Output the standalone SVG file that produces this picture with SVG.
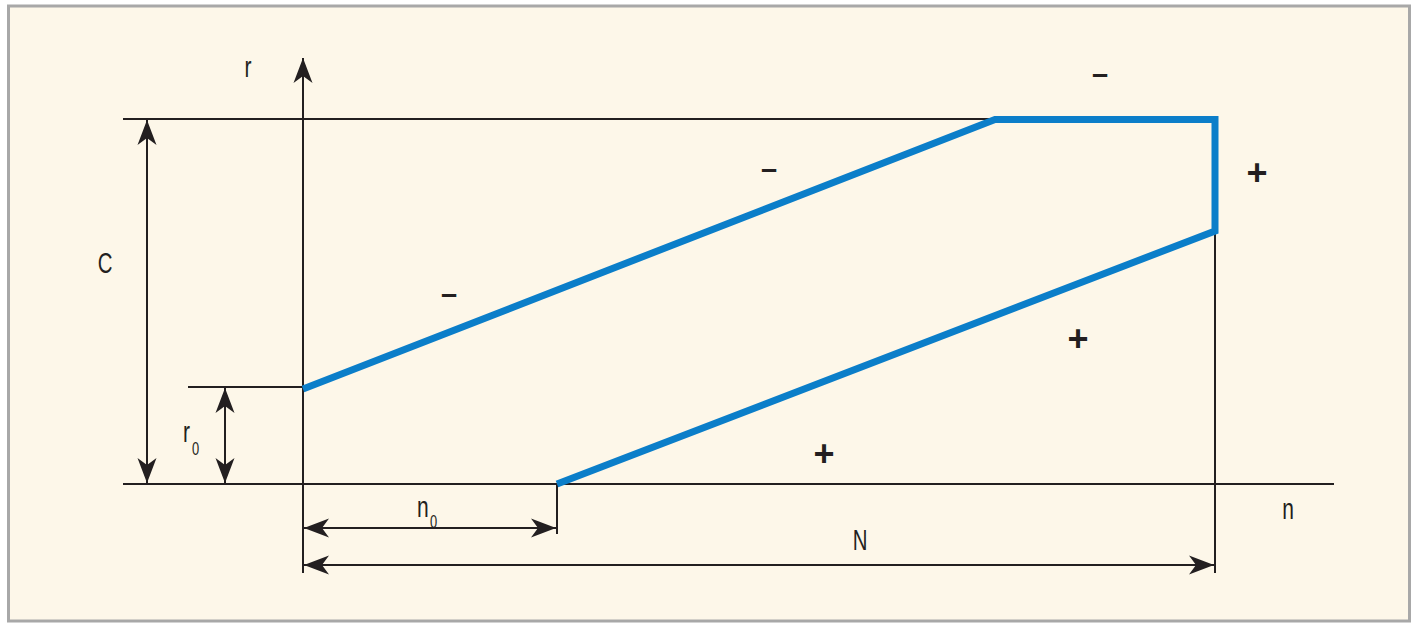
<svg xmlns="http://www.w3.org/2000/svg" width="1417" height="628" viewBox="0 0 1417 628">
  <style>
    .ln { stroke: #231f20; stroke-width: 2; fill: none; }
    .dim { stroke: #231f20; stroke-width: 2; fill: none; marker-start: url(#ah); marker-end: url(#ah); }
    .blue { stroke: #0b7ec9; stroke-width: 7; fill: none; stroke-linejoin: miter; }
    .lbl { font-family: "Liberation Sans", Arial, sans-serif; font-size: 30px; fill: #231f20; }
    .sub { font-family: "Liberation Sans", Arial, sans-serif; font-size: 19px; fill: #231f20; }
    .sgn { font-family: "Liberation Sans", Arial, sans-serif; font-weight: bold; fill: #231f20; text-anchor: middle; }
  </style>
  <defs>
    <marker id="ah" viewBox="-26 -10 27 20" refX="0" refY="0" markerWidth="27" markerHeight="20" markerUnits="userSpaceOnUse" orient="auto-start-reverse">
      <path d="M0,0 L-25,-9.5 L-18,0 L-25,9.5 Z" fill="#231f20"/>
    </marker>
  </defs>
  <rect id="frame" x="8.5" y="6" width="1401" height="615" fill="#fdf7e9" stroke="#a8a8a8" stroke-width="3"/>

  <g id="connectors">
    <line id="top-ref" class="ln" x1="123" y1="119" x2="1000" y2="119"/>
    <line id="n-axis" class="ln" x1="123" y1="484" x2="1334" y2="484"/>
    <line id="r0-ref" class="ln" x1="188" y1="387" x2="303" y2="387"/>
    <line id="r-axis" class="ln" x1="303" y1="573" x2="303" y2="58" marker-end="url(#ah)"/>
    <line id="N-ref" class="ln" x1="1215" y1="230" x2="1215" y2="573"/>
    <line id="n0-ref" class="ln" x1="557" y1="484" x2="557" y2="534"/>
    <line id="C-dim" class="dim" x1="147" y1="120" x2="147" y2="483"/>
    <line id="r0-dim" class="dim" x1="225" y1="388" x2="225" y2="483"/>
    <line id="n0-dim" class="dim" x1="304" y1="528" x2="556" y2="528"/>
    <line id="N-dim" class="dim" x1="304" y1="565" x2="1214" y2="565"/>
  </g>

  <g id="curve">
    <polyline class="blue" points="303,389 995,119.5 1215,119.5 1215,231 557,484"/>
  </g>

  <g id="labels">
    <text id="lbl-r" class="lbl" text-anchor="middle" transform="translate(248,77) scale(0.7,1)">r</text>
    <text id="lbl-n" class="lbl" text-anchor="middle" transform="translate(1288,519) scale(0.7,1)">n</text>
    <text id="lbl-C" class="lbl" text-anchor="middle" transform="translate(105,273) scale(0.68,1)">C</text>
    <text id="lbl-N" class="lbl" text-anchor="middle" transform="translate(860,550) scale(0.68,1)">N</text>
    <g id="lbl-r0">
      <text class="lbl" transform="translate(183,442) scale(0.7,1)">r</text>
      <text class="sub" transform="translate(192,455) scale(0.68,1)">0</text>
    </g>
    <g id="lbl-n0">
      <text class="lbl" transform="translate(417,517) scale(0.7,1)">n</text>
      <text class="sub" transform="translate(430,528) scale(0.68,1)">0</text>
    </g>
  </g>

  <g id="signs">
    <text class="sgn" font-size="29" x="1100" y="84">–</text>
    <text class="sgn" font-size="29" x="769" y="179">–</text>
    <text class="sgn" font-size="29" x="449" y="304">–</text>
    <text class="sgn" font-size="36" x="1257" y="185">+</text>
    <text class="sgn" font-size="36" x="1078" y="351">+</text>
    <text class="sgn" font-size="36" x="824" y="466">+</text>
  </g>
</svg>
